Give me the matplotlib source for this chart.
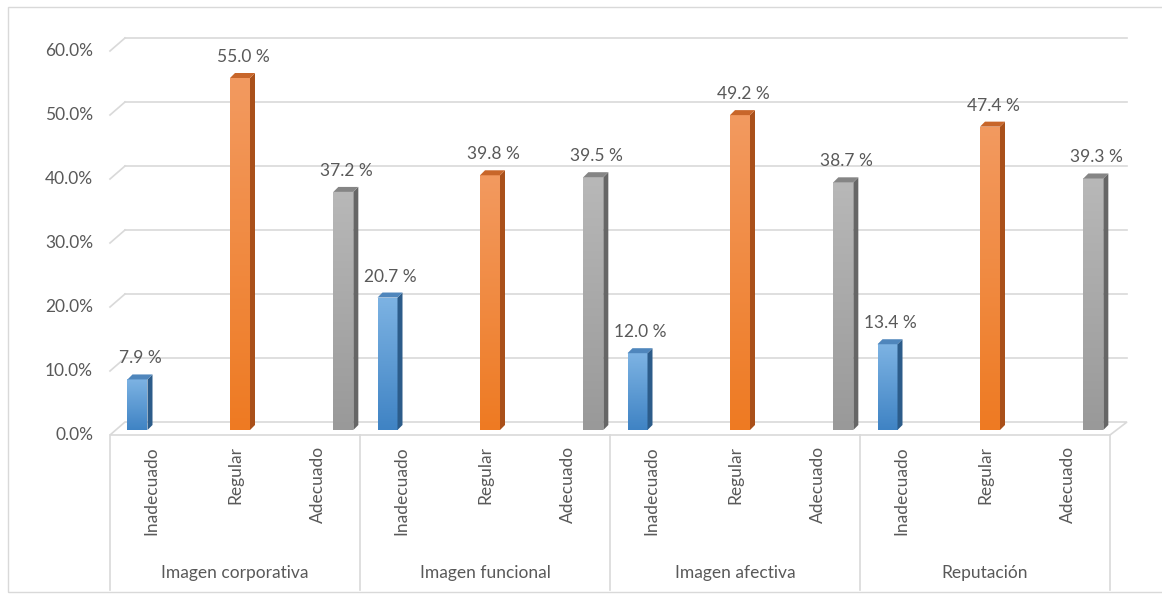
import matplotlib.pyplot as plt
import numpy as np
import matplotlib.transforms as mtransforms
from matplotlib.patches import Polygon, Rectangle
from matplotlib.lines import Line2D
from matplotlib.colors import LinearSegmentedColormap

plt.rcParams['font.family'] = ['Lato', 'DejaVu Sans']

# datos
categorias = ['Imagen corporativa', 'Imagen funcional', 'Imagen afectiva', 'Reputación']
niveles = ['Inadecuado', 'Regular', 'Adecuado']
inadecuado = [7.9, 20.7, 12.0, 13.4]
regular = [55.0, 39.8, 49.2, 47.4]
adecuado = [37.2, 39.5, 38.7, 39.3]
y_ticks = [0, 10, 20, 30, 40, 50, 60]

series = [inadecuado, regular, adecuado]
# (arriba, abajo, lado, tapa)
colores = [('#7DB3E3', '#3F83C4', '#2C5C8A', '#4F86BC'),
           ('#F39A60', '#EE7A22', '#A9501A', '#C8662A'),
           ('#B8B8B8', '#999999', '#666666', '#858585')]
desplaz = [-0.17, 0.06, 0.30]   # perspectiva
ancho = 0.24
prof = 5  # px
texto = '#595959'
linea = '#D9D9D9'
fs = 12.5

W, H = 1162, 596
fig = plt.figure(figsize=(W / 100, H / 100), dpi=100)
ax = fig.add_axes([110 / W, 1 - 430 / H, 1000 / W, 384 / H])
ax.set_xlim(-0.5, 11.5)
ax.set_ylim(0, 60)
ax.axis('off')

ident = mtransforms.IdentityTransform()

def disp(x, y):
    return ax.transData.transform((x, y))

# marco exterior
fig.add_artist(Rectangle((8, 4), W, H - 11, transform=ident, fill=False,
                         edgecolor=linea, lw=1))

# lineas de division (pared del fondo)
x_izq, _ = disp(-0.5, 0)
x_der, _ = disp(11.5, 0)
for t in y_ticks:
    _, yd = disp(0, t)
    if t > 0:
        fig.add_artist(Line2D([x_izq + 15, x_der + 17], [yd + 8, yd + 8],
                              transform=ident, color=linea, lw=1.2, zorder=0))
        fig.add_artist(Line2D([x_izq, x_izq + 15], [yd - 5, yd + 8],
                              transform=ident, color=linea, lw=1.2, zorder=0))
    ax.text(0, t, f'{t:.1f}%', ha='right', va='center', fontsize=fs, color=texto,
            transform=mtransforms.offset_copy(ax.get_yaxis_transform(), fig=fig,
                                              x=-17, y=-5, units='dots'))

# piso
_, y0 = disp(0, 0)
piso = [(x_izq, y0 - 5), (x_der, y0 - 5), (x_der + 17, y0 + 8), (x_izq + 15, y0 + 8)]
fig.add_artist(Polygon(piso, closed=True, transform=ident, facecolor='white',
                       edgecolor=linea, lw=1.2, zorder=0))

# separadores de categorias
for g in range(len(categorias) + 1):
    xd, _ = disp(g * 3 - 0.5, 0)
    fig.add_artist(Line2D([xd, xd], [y0 - 5, 6], transform=ident, color=linea, lw=1.2))

# barras
for s, valores in enumerate(series):
    c_top, c_bot, c_lado, c_tapa = colores[s]
    cmap = LinearSegmentedColormap.from_list('g', [c_bot, c_top])
    grad = np.linspace(0, 1, 256).reshape(-1, 1)
    for g, v in enumerate(valores):
        x = g * 3 + s + desplaz[s]
        rect = Rectangle((x - ancho / 2, 0), ancho, v, facecolor=c_bot, edgecolor='none')
        ax.add_patch(rect)
        im = ax.imshow(grad, extent=[x - ancho / 2, x + ancho / 2, 0, v], origin='lower',
                       aspect='auto', cmap=cmap, zorder=2)
        im.set_clip_path(rect)
        xa, ya = disp(x - ancho / 2, 0)
        xb, yb = disp(x + ancho / 2, v)
        lado = [(xb, ya), (xb + prof, ya + prof), (xb + prof, yb + prof), (xb, yb)]
        tapa = [(xa, yb), (xb, yb), (xb + prof, yb + prof), (xa + prof, yb + prof)]
        fig.add_artist(Polygon(lado, closed=True, transform=ident, facecolor=c_lado,
                               edgecolor='none'))
        fig.add_artist(Polygon(tapa, closed=True, transform=ident, facecolor=c_tapa,
                               edgecolor='none'))
        ax.annotate(f'{v:.1f} %', (x, v), xytext=(3, 21), textcoords='offset pixels',
                    ha='center', va='center', fontsize=fs, color=texto)
        # etiqueta del nivel
        ax.text(g * 3 + s, 0, niveles[s], rotation=90, ha='center', va='top',
                fontsize=fs, color=texto,
                transform=mtransforms.offset_copy(ax.transData, fig=fig, x=0, y=-16,
                                                  units='dots'))

for g, cat in enumerate(categorias):
    ax.text(g * 3 + 1, 0, cat, ha='center', va='center', fontsize=fs, color=texto,
            transform=mtransforms.offset_copy(ax.transData, fig=fig, x=0, y=-143,
                                              units='dots'))

ax.set_xlim(-0.5, 11.5)
ax.set_ylim(0, 60)
fig.savefig('out.png', dpi=100)
